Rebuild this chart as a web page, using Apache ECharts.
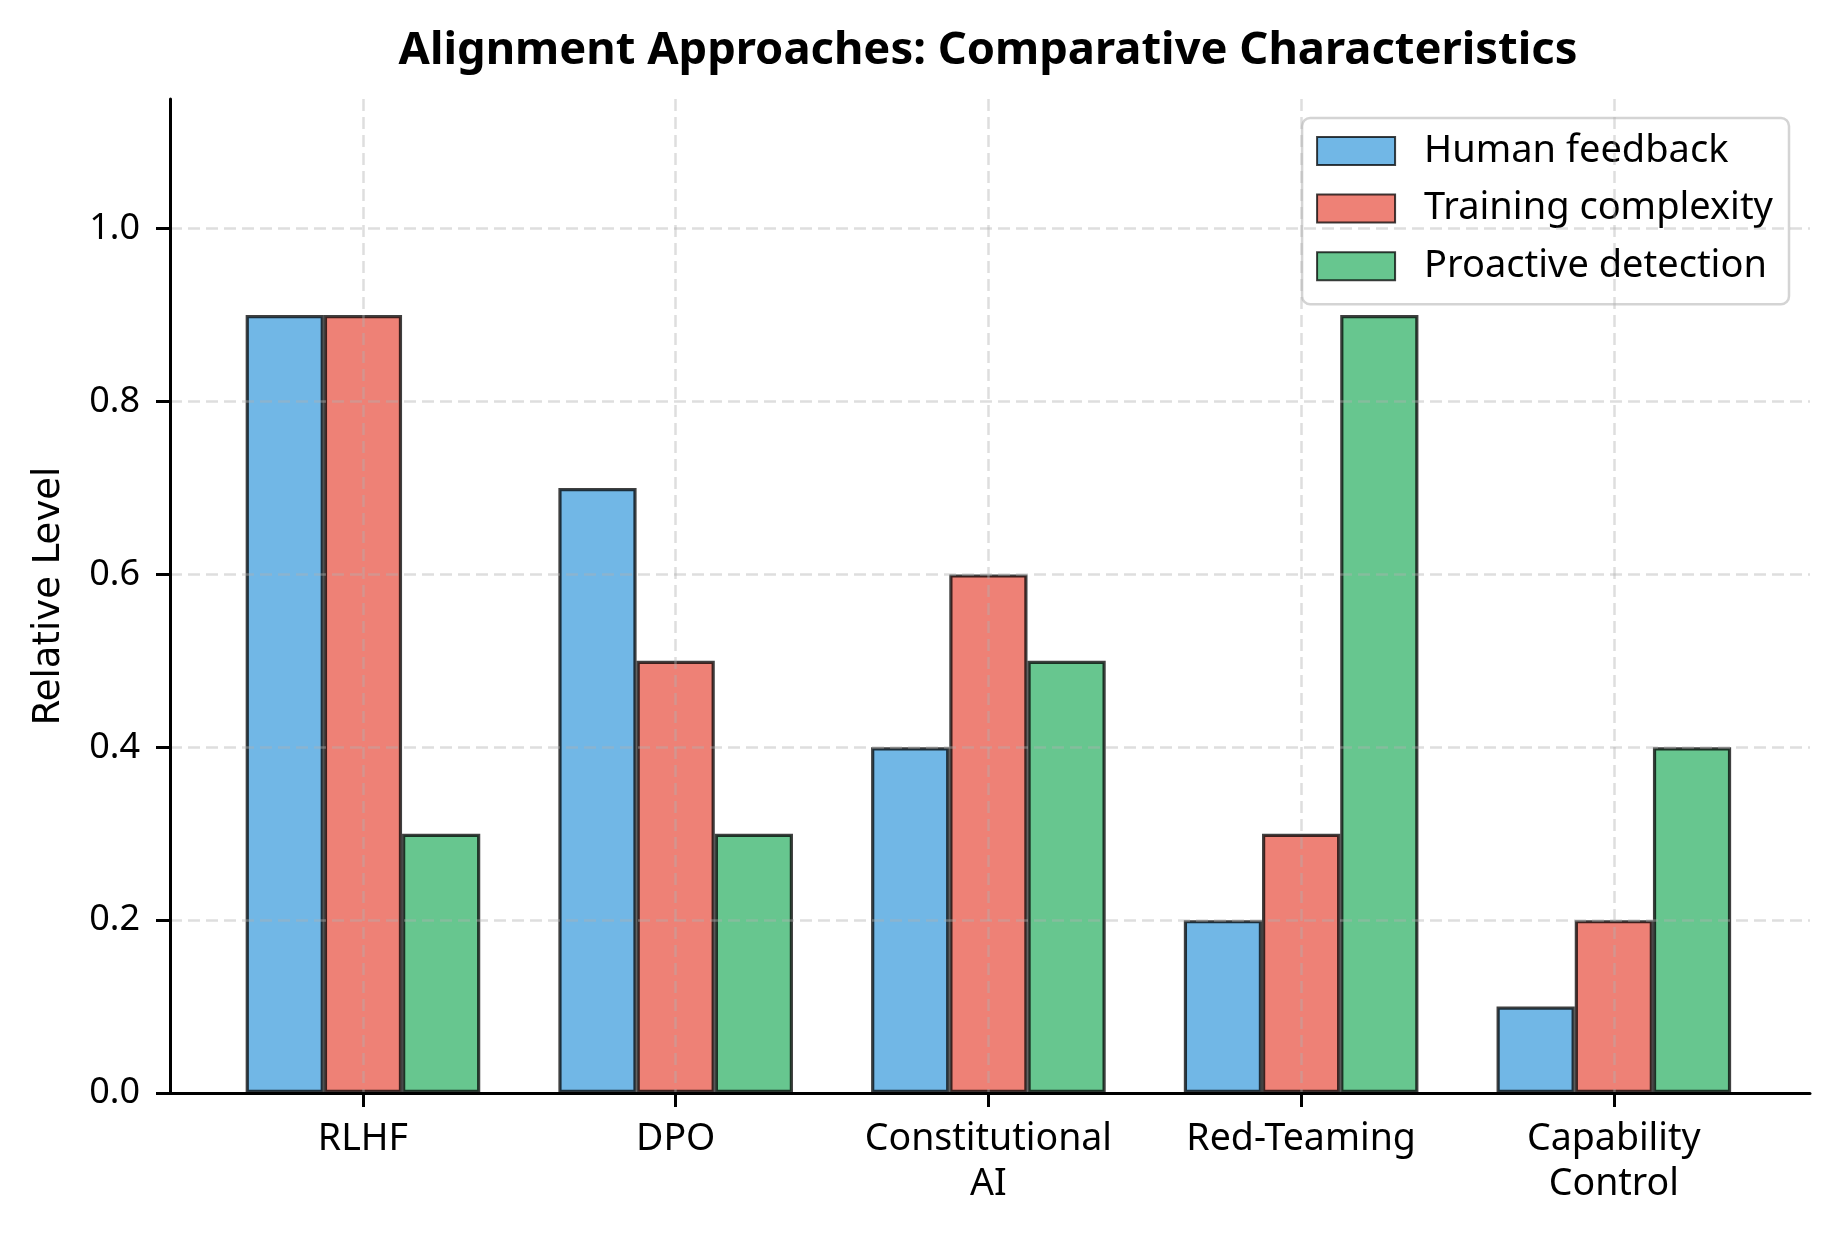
<!DOCTYPE html>
<html>
<head>
<meta charset="utf-8">
<title>Alignment Approaches</title>
<script src="https://cdn.jsdelivr.net/npm/echarts@6/dist/echarts.min.js"></script>
<style>
  html, body { margin: 0; padding: 0; background: #fff; }
  #chart { width: 1834px; height: 1234px; }
</style>
</head>
<body>
<div id="chart"></div>
<script>
// data
const approaches = ["RLHF", "DPO", "Constitutional\nAI", "Red-Teaming", "Capability\nControl"];
const humanFeedback = [0.9, 0.7, 0.4, 0.2, 0.1];
const trainingComplexity = [0.9, 0.5, 0.6, 0.3, 0.2];
const proactiveDetection = [0.3, 0.3, 0.5, 0.9, 0.4];
const yTicks = [0, 0.2, 0.4, 0.6, 0.8, 1.0];

const FONT = "Noto Sans";
const EDGE = "rgba(0,0,0,0.75)";
const GRID_LINE = {
    type: [12, 6],
    width: 2.5,
    color: "rgba(176,176,176,0.42)"
};

const chart = echarts.init(document.getElementById("chart"), null, { renderer: "canvas" });

function barSeries(name, values, fill) {
    return {
        name: name,
        type: "bar",
        xAxisIndex: 1,
        yAxisIndex: 1,
        data: values,
        barWidth: 78.2,
        barGap: "0%",
        itemStyle: {
            color: fill,
            borderColor: EDGE,
            borderWidth: 3.2
        },
        emphasis: { disabled: true },
        z: 2
    };
}

chart.setOption({
    animation: false,
    backgroundColor: "#fff",
    textStyle: { fontFamily: FONT },
    title: {
        text: "Alignment Approaches: Comparative Characteristics",
        left: 983,
        textAlign: "center",
        top: 24,
        textStyle: { fontFamily: FONT, fontSize: 45.3, fontWeight: "bold", color: "#000" }
    },
    legend: {
        orient: "vertical",
        right: 45,
        top: 118,
        padding: [14, 16, 19, 14],
        itemWidth: 78,
        itemHeight: 28,
        itemGap: 19.6,
        icon: "rect",
        backgroundColor: "rgba(255,255,255,0.85)",
        borderColor: "#d4d4d4",
        borderWidth: 2.5,
        borderRadius: 8,
        textStyle: { fontFamily: FONT, fontSize: 38, color: "#000", padding: [0, 0, 0, 24] },
        data: ["Human feedback", "Training complexity", "Proactive detection"]
    },
    grid: [
        { left: 170, right: 24, top: 99, bottom: 141 },
        { left: 206.6, right: 63.8, top: 99, bottom: 141 }
    ],
    xAxis: [
        {
            type: "value",
            gridIndex: 0,
            min: 0,
            max: 1,
            z: 6,
            axisLine: { show: true, lineStyle: { color: "#000", width: 3 } },
            axisTick: { show: false },
            axisLabel: { show: false },
            splitLine: { show: false }
        },
        {
            type: "category",
            gridIndex: 1,
            data: approaches,
            z: 5,
            axisLine: { show: false },
            axisTick: { show: true, interval: 0, alignWithLabel: true, length: 14, lineStyle: { color: "#000", width: 3 } },
            axisLabel: { interval: 0, hideOverlap: false, fontFamily: FONT, fontSize: 37.5, color: "#000", margin: 24, lineHeight: 45 },
            splitLine: { show: true, interval: 0, alignWithLabel: true, lineStyle: GRID_LINE }
        }
    ],
    yAxis: [
        {
            type: "value",
            gridIndex: 0,
            min: 0,
            max: 1.15,
            interval: 0.2,
            z: 5,
            name: "Relative Level",
            nameLocation: "middle",
            nameGap: 102,
            nameTextStyle: { fontFamily: "DejaVu Sans", fontSize: 37, color: "#000" },
            axisLine: { show: true, lineStyle: { color: "#000", width: 3 } },
            axisTick: { show: true, length: 14, customValues: yTicks, lineStyle: { color: "#000", width: 3 } },
            axisLabel: {
                customValues: yTicks,
                fontFamily: FONT, fontSize: 36, color: "#000", margin: 30,
                formatter: v => v.toFixed(1)
            },
            splitLine: {
                show: true,
                lineStyle: Object.assign({}, GRID_LINE, {
                    color: [GRID_LINE.color, GRID_LINE.color, GRID_LINE.color, GRID_LINE.color,
                            GRID_LINE.color, GRID_LINE.color, "rgba(0,0,0,0)"]
                })
            }
        },
        {
            type: "value",
            gridIndex: 1,
            min: 0,
            max: 1.15,
            show: false
        }
    ],
    series: [
        barSeries("Human feedback", humanFeedback, "rgba(52,152,219,0.7)"),
        barSeries("Training complexity", trainingComplexity, "rgba(231,76,60,0.7)"),
        barSeries("Proactive detection", proactiveDetection, "rgba(39,174,96,0.7)")
    ]
});
</script>
</body>
</html>
